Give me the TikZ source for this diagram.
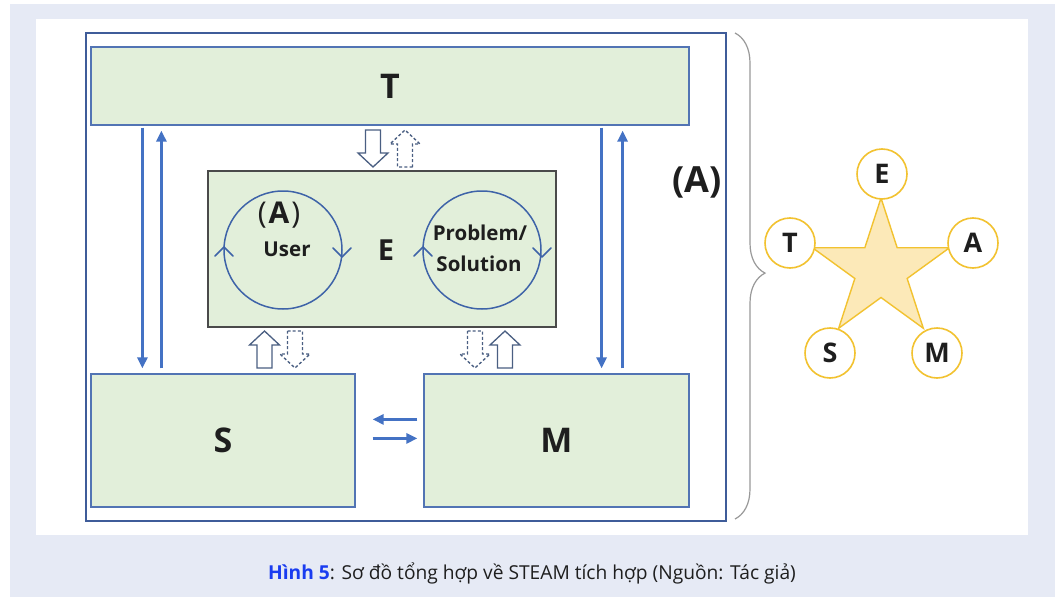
\documentclass[tikz,border=0pt]{standalone}
\usepackage{fontspec}
\setmainfont{Open Sans}
\usetikzlibrary{arrows.meta,calc,decorations.pathreplacing}

\definecolor{pagebg}{HTML}{E6EAF5}
\definecolor{boxfill}{HTML}{E2EFDA}
\definecolor{frameblue}{HTML}{3F5C99}
\definecolor{boxline}{HTML}{5274B4}
\definecolor{eline}{HTML}{4A4A4A}
\definecolor{linkblue}{HTML}{4472C4}
\definecolor{loopblue}{HTML}{3E63A8}
\definecolor{hollowline}{HTML}{4A5F82}
\definecolor{starfill}{HTML}{FCE9B8}
\definecolor{starline}{HTML}{F2C230}
\definecolor{capblue}{HTML}{1A3CF0}
\definecolor{ink}{HTML}{1E1E1E}

\tikzset{
  part/.style={draw=boxline, line width=1.2pt, fill=boxfill, inner sep=0pt,
    text=ink, font=\fontsize{34}{36}\selectfont\bfseries},
  link/.style={draw=linkblue, line width=2.6pt,
    -{Triangle[length=11pt,width=10pt]}},
  loop/.style={draw=loopblue, line width=1.5pt, circle, minimum size=118pt, inner sep=0pt},
  chevron/.style={draw=loopblue, line width=1.5pt, line cap=round, line join=round},
  lbl/.style={text=ink, inner sep=0pt, font=\fontsize{20.5}{22}\selectfont\bfseries},
  hollowdraw/.style={draw=hollowline, line width=1.3pt, fill=white, line join=miter},
  dashdraw/.style={hollowdraw, dash pattern=on 3pt off 2.2pt},
  blockarrow/.pic={
    \path[pic actions] (-7.5,0) -- (7.5,0) -- (7.5,23) -- (15,23) -- (0,37)
      -- (-15,23) -- (-7.5,23) -- cycle;
  },
  letter/.style={circle, draw=starline, line width=1.6pt, fill=white,
    minimum size=50pt, inner sep=0pt, text=ink,
    font=\fontsize{27}{28}\selectfont\bfseries},
}

\begin{document}
\begin{tikzpicture}[x=1pt,y=-1pt]
\useasboundingbox (0,0) rectangle (1058,597);
\fill[white] (0,0) rectangle (1058,597);
\fill[pagebg] (10,4) rectangle (1055,597);
\fill[white] (36,19) rectangle (1028,535);

% outer frame of the integrated model
\node[draw=frameblue, line width=2pt, minimum width=640pt, minimum height=488pt,
  inner sep=0pt] (frame) at (406,277) {};

% the four discipline boxes around E
\node[part, minimum width=598pt, minimum height=78pt] (T) at (390,86) {T};
\node[part, draw=eline, line width=1.4pt, minimum width=348pt, minimum height=156pt] (E) at (382,249) {};
\node[part, minimum width=264pt, minimum height=133pt] (S) at (223,440.5) {S};
\node[part, minimum width=265pt, minimum height=133pt] (M) at (556.5,440.5) {M};

% E box contents
\node[lbl, font=\fontsize{29}{31}\selectfont\bfseries] (Elbl) at (386,250) {E};
\node[loop] (userloop) at (283,250) {};
\node[loop] (probloop) at (482,250) {};
\draw[chevron] (215,256) -- (224,247) -- (233,256);
\draw[chevron] (333,248) -- (342,257) -- (351,248);
\draw[chevron] (414,256) -- (423,247) -- (432,256);
\draw[chevron] (533,248) -- (542,257) -- (551,248);
\node[lbl, font=\fontsize{30}{32}\selectfont] (artlbl) at (279,215)
  {(\kern2pt\textbf{A}\kern2pt)};
\node[lbl] (userlbl) at (287,249) {User};
\node[lbl] (problbl) at (480,233) {Problem/};
\node[lbl] (sollbl) at (479,264) {Solution};

% hollow exchange arrows (solid and dashed)
\pic[hollowdraw] at (373,130) {blockarrow};
\pic[dashdraw, rotate=180] at (405,167) {blockarrow};
\pic[hollowdraw, rotate=180] at (264.5,368) {blockarrow};
\pic[dashdraw] at (295,331) {blockarrow};
\pic[dashdraw] at (475,331) {blockarrow};
\pic[hollowdraw, rotate=180] at (505,368) {blockarrow};

% links between T and S, T and M, S and M
\draw[link, shorten <=2pt, shorten >=5pt]
  ($(T.south west)+(52,0)$) -- ($(S.north west)+(52,0)$);
\draw[link, shorten <=5pt, shorten >=5pt]
  ($(S.north west)+(71,0)$) -- ($(T.south west)+(71,0)$);
\draw[link, shorten <=2pt, shorten >=5pt]
  ($(T.south east)+(-88,0)$) -- ($(M.north east)+(-88,0)$);
\draw[link, shorten <=5pt, shorten >=5pt]
  ($(M.north east)+(-67,0)$) -- ($(T.south east)+(-67,0)$);
\draw[link, shorten <=6pt, shorten >=17pt]
  ($(M.north west)+(0,46)$) -- ($(S.north east)+(0,46)$);
\draw[link, shorten <=17pt, shorten >=6pt]
  ($(S.north east)+(0,65)$) -- ($(M.north west)+(0,65)$);

\node[text=ink, inner sep=0pt, font=\fontsize{36}{38}\selectfont\bfseries]
  (Albl) at (697,182) {(A)};

% brace gathering the model
\draw[draw=black!40, line width=1.2pt,
  decorate, decoration={brace, amplitude=30pt, aspect=0.494}]
  (735,33) -- (735,519);

% STEAM star
\coordinate (sc) at (881,270);
\draw[fill=starfill, draw=starline, line width=1.4pt, line join=miter]
  ($(sc)+(-90:72)$) -- ($(sc)+(-54:27.5)$) -- ($(sc)+(-18:72)$) --
  ($(sc)+(18:27.5)$) -- ($(sc)+(54:72)$) -- ($(sc)+(90:27.5)$) --
  ($(sc)+(126:72)$) -- ($(sc)+(162:27.5)$) -- ($(sc)+(198:72)$) --
  ($(sc)+(234:27.5)$) -- cycle;
\node[letter] (sE) at (882,174) {E};
\node[letter] (sT) at (790,243) {T};
\node[letter] (sA) at (973,243) {A};
\node[letter] (sS) at (830,353) {S};
\node[letter] (sM) at (937,353) {M};

% caption
\node[inner sep=0pt, text=ink, font=\fontsize{19.2}{21}\selectfont] (cap) at (532,573)
  {\textcolor{capblue}{\bfseries Hình 5}: Sơ đồ tổng hợp về STEAM tích hợp (Nguồn: Tác giả)};
\end{tikzpicture}
\end{document}
